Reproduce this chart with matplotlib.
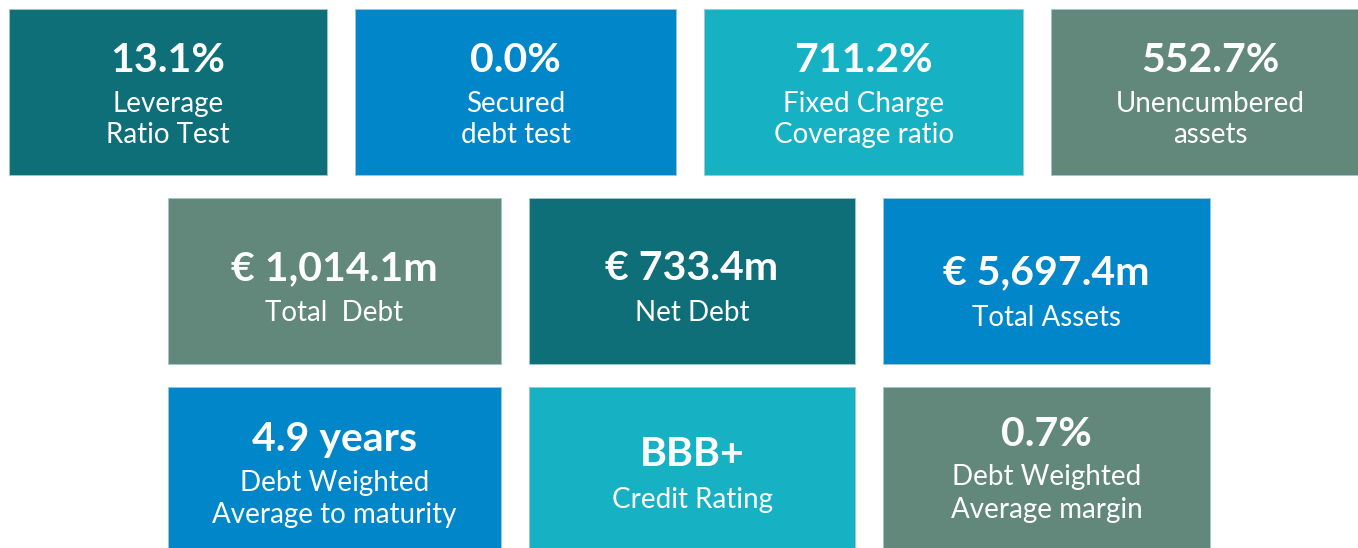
import matplotlib
matplotlib.use("Agg")
import matplotlib.pyplot as plt
from matplotlib.patches import Rectangle

# ---- data ----
values = ["13.1%", "0.0%", "711.2%", "552.7%",
          "€ 1,014.1m", "€ 733.4m", "€ 5,697.4m",
          "4.9 years", "BBB+", "0.7%"]
labels = ["Leverage\nRatio Test", "Secured\ndebt test", "Fixed Charge\nCoverage ratio",
          "Unencumbered\nassets",
          "Total  Debt", "Net Debt", "Total Assets",
          "Debt Weighted\nAverage to maturity", "Credit Rating",
          "Debt Weighted\nAverage margin"]
color_keys = ["dark", "blue", "light", "grey",
              "grey", "dark", "blue",
              "blue", "light", "grey"]

palette = {"dark": "#0e6f79", "blue": "#0086c9", "light": "#17b1c4", "grey": "#62877b"}

# ---- layout (pixels) ----
W, H = 1358, 548
boxes = [(9, 9, 327, 175), (355, 9, 676, 175), (704, 9, 1023, 175), (1051, 9, 1370, 175),
         (168, 198, 501, 364), (529, 198, 855, 364), (883, 198, 1210, 364),
         (168, 387, 501, 548), (529, 387, 855, 548), (883, 387, 1210, 548)]
value_y = [61, 61, 61, 61, 269, 269, 273, 440, 455, 434]
label_y = [[104, 135], [104, 135], [104, 135], [104, 135],
           [313], [313], [318], [483, 515], [500], [477, 510]]

fig = plt.figure(figsize=(W / 100, H / 100), dpi=100)
ax = fig.add_axes([0, 0, 1, 1])
ax.set_xlim(0, W)
ax.set_ylim(H, 0)
ax.axis("off")

font = ["Lato", "DejaVu Sans"]
for v, lab, ck, (x0, y0, x1, y1), vy, ly in zip(values, labels, color_keys, boxes, value_y, label_y):
    ax.add_patch(Rectangle((x0, y0), x1 - x0, y1 - y0, facecolor=palette[ck],
                           edgecolor="#9fc9cf", linewidth=0.6))
    cx = (x0 + x1) / 2
    ax.text(cx, vy, v, ha="center", va="center", color="white",
            fontsize=29.5, fontweight="bold", family=font)
    for line, yy in zip(lab.split("\n"), ly):
        ax.text(cx, yy, line, ha="center", va="center", color="white",
                fontsize=20, family=font)

fig.savefig("out.png", dpi=100)
